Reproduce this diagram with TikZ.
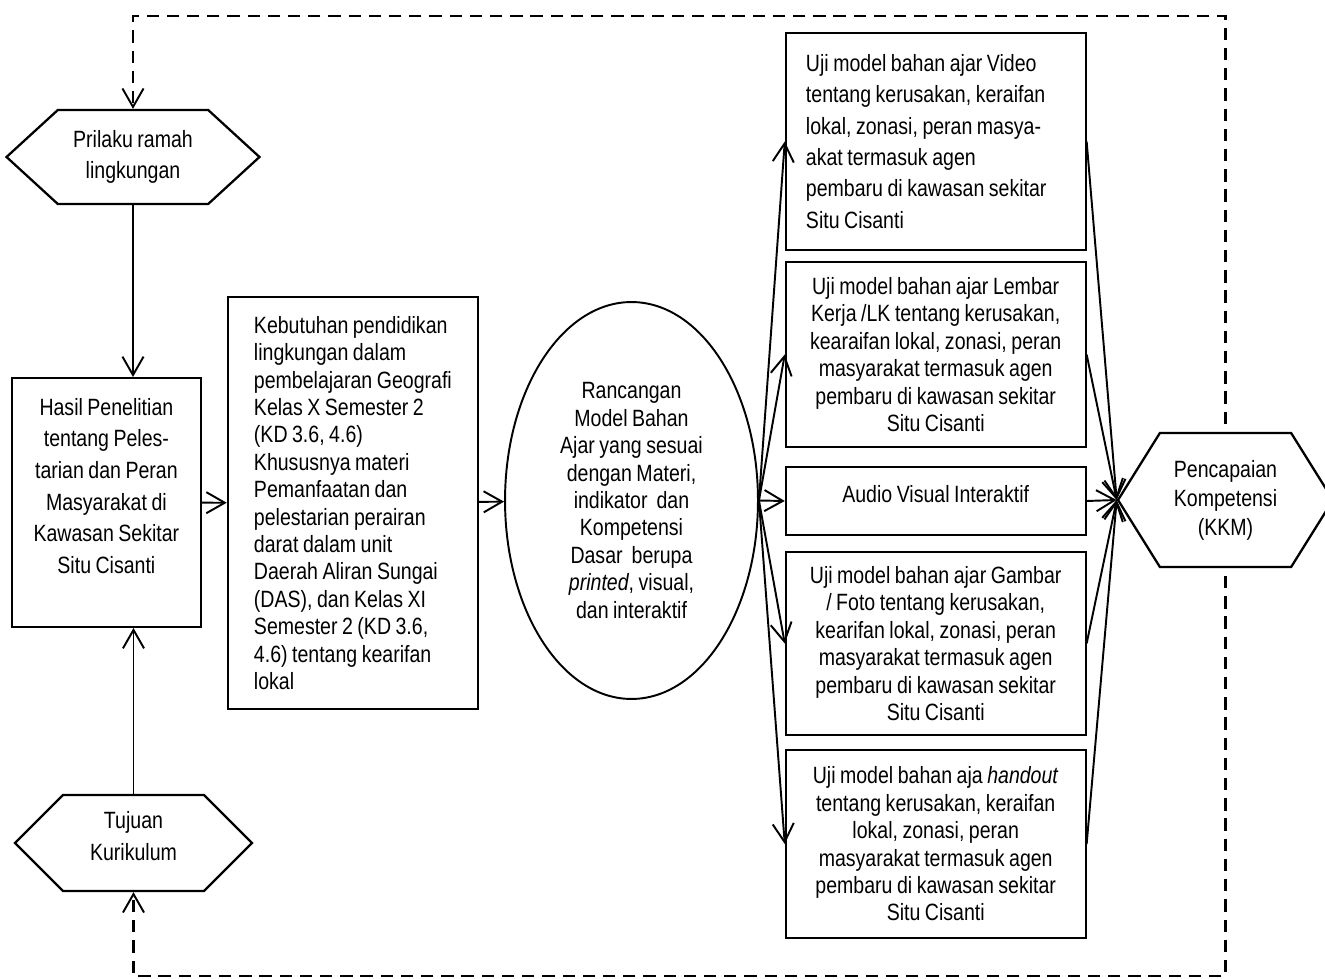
\documentclass[tikz,border=0pt]{standalone}
\usepackage{fontspec}
\setmainfont{Liberation Sans}[FakeStretch=0.83,WordSpace=0.83]
\usetikzlibrary{shapes.geometric,shapes.symbols,arrows.meta}

\begin{document}
\begin{tikzpicture}[x=0.02cm,y=-0.02cm,
		every node/.style={font=\fontsize{13.4pt}{15.6pt}\selectfont},
		kotak/.style={draw,line width=1.1pt,inner sep=0pt},
		segienam/.style={draw,line width=1.3pt,shape=signal,signal to=east and west,inner sep=0pt,align=center},
		panah/.style={line width=1.1pt,-{Straight Barb[length=10.5pt,width=12pt,line width=1.1pt]}},
		balik/.style={panah,line width=1.2pt,dash pattern=on 7pt off 4.5pt}]
		\useasboundingbox (0,0) rectangle (1325,979);
		% kiri
		\node[segienam,minimum width=5.06cm,minimum height=1.88cm,signal pointer angle=85,font=\fontsize{13.4pt}{18pt}\selectfont] (prilaku) at (133,157) {Prilaku ramah\\lingkungan};
		\node[kotak,minimum width=3.79cm,minimum height=4.98cm,align=center,text depth=19pt,font=\fontsize{13.4pt}{18pt}\selectfont] (hasil) at (106.4,502.5) {Hasil Penelitian\\tentang Peles-\\tarian dan Peran\\Masyarakat di\\Kawasan Sekitar\\Situ Cisanti};
		\node[segienam,minimum width=4.74cm,minimum height=1.92cm,signal pointer angle=90,text depth=8pt,font=\fontsize{13.4pt}{18pt}\selectfont] (tujuan) at (133.5,843) {Tujuan\\Kurikulum};
		% tengah
		\node[kotak,minimum width=5.01cm,minimum height=8.24cm,align=left] (kebutuhan) at (352.9,503) {Kebutuhan pendidikan\\lingkungan dalam\\pembelajaran Geografi\\Kelas X Semester 2\\(KD 3.6, 4.6)\\Khususnya materi\\Pemanfaatan dan\\pelestarian perairan\\darat dalam unit\\Daerah Aliran Sungai\\(DAS), dan Kelas XI\\Semester 2 (KD 3.6,\\4.6) tentang kearifan\\lokal};
		\node[draw,ellipse,line width=1.1pt,minimum width=5.06cm,minimum height=7.94cm,inner sep=0pt,align=center] (rancangan) at (631.5,500.5) {Rancangan\\Model Bahan\\Ajar yang sesuai\\dengan Materi,\\indikator\ \ dan\\Kompetensi\\Dasar\ \ berupa\\\textit{printed}, visual,\\dan interaktif};
		% kanan
		\node[kotak,minimum width=6cm,minimum height=4.34cm,align=left,font=\fontsize{13.4pt}{17.8pt}\selectfont] (video) at (935.7,141.5) {Uji model bahan ajar Video\\tentang kerusakan, keraifan\\lokal, zonasi, peran masya-\\akat termasuk agen\\\makebox[5.19cm][l]{pembaru di kawasan sekitar}\\Situ Cisanti};
		\node[kotak,minimum width=6cm,minimum height=3.7cm,align=center] (lk) at (935.7,354.5) {Uji model bahan ajar Lembar\\Kerja /LK tentang kerusakan,\\kearaifan lokal, zonasi, peran\\masyarakat termasuk agen\\pembaru di kawasan sekitar\\Situ Cisanti};
		\node[kotak,minimum width=6cm,minimum height=1.36cm,text depth=8pt] (audio) at (935.7,501) {Audio Visual Interaktif};
		\node[kotak,minimum width=6cm,minimum height=3.66cm,align=center] (gambar) at (935.7,643.5) {Uji model bahan ajar Gambar\\/ Foto tentang kerusakan,\\kearifan lokal, zonasi, peran\\masyarakat termasuk agen\\pembaru di kawasan sekitar\\Situ Cisanti};
		\node[kotak,minimum width=6cm,minimum height=3.76cm,align=center] (handout) at (935.7,844) {Uji model bahan aja \textit{handout}\\tentang kerusakan, keraifan\\lokal, zonasi, peran\\masyarakat termasuk agen\\pembaru di kawasan sekitar\\Situ Cisanti};
		\node[segienam,minimum width=4.3cm,minimum height=2.68cm,signal pointer angle=116,font=\fontsize{13.4pt}{16.5pt}\selectfont] (kkm) at (1225.5,500) {Pencapaian\\Kompetensi\\(KKM)};
		% panah
		\draw[panah] (prilaku.south) -- (prilaku.south |- hasil.north);
		\draw[panah] (tujuan.north) -- (tujuan.north |- hasil.south);
		\draw[panah] (hasil) -- (kebutuhan);
		\draw[panah] (kebutuhan) -- (rancangan);
		\foreach \t in {video,lk,audio,gambar,handout}
			\draw[panah] (rancangan.east) -- (\t.west);
		\foreach \s in {video,lk,audio,gambar,handout}
			\draw[panah] (\s.east) -- (kkm.west);
		% umpan balik
		\coordinate (atas) at (0,15.7);
		\coordinate (bawah) at (0,976);
		\draw[balik] ([yshift=4.5pt]kkm.north) -- (kkm.north |- atas) -- (prilaku.north |- atas) -- (prilaku.north);
		\draw[balik] ([yshift=-4.5pt]kkm.south) -- (kkm.south |- bawah) -- (tujuan.south |- bawah) -- (tujuan.south);
	\end{tikzpicture}
\end{document}
